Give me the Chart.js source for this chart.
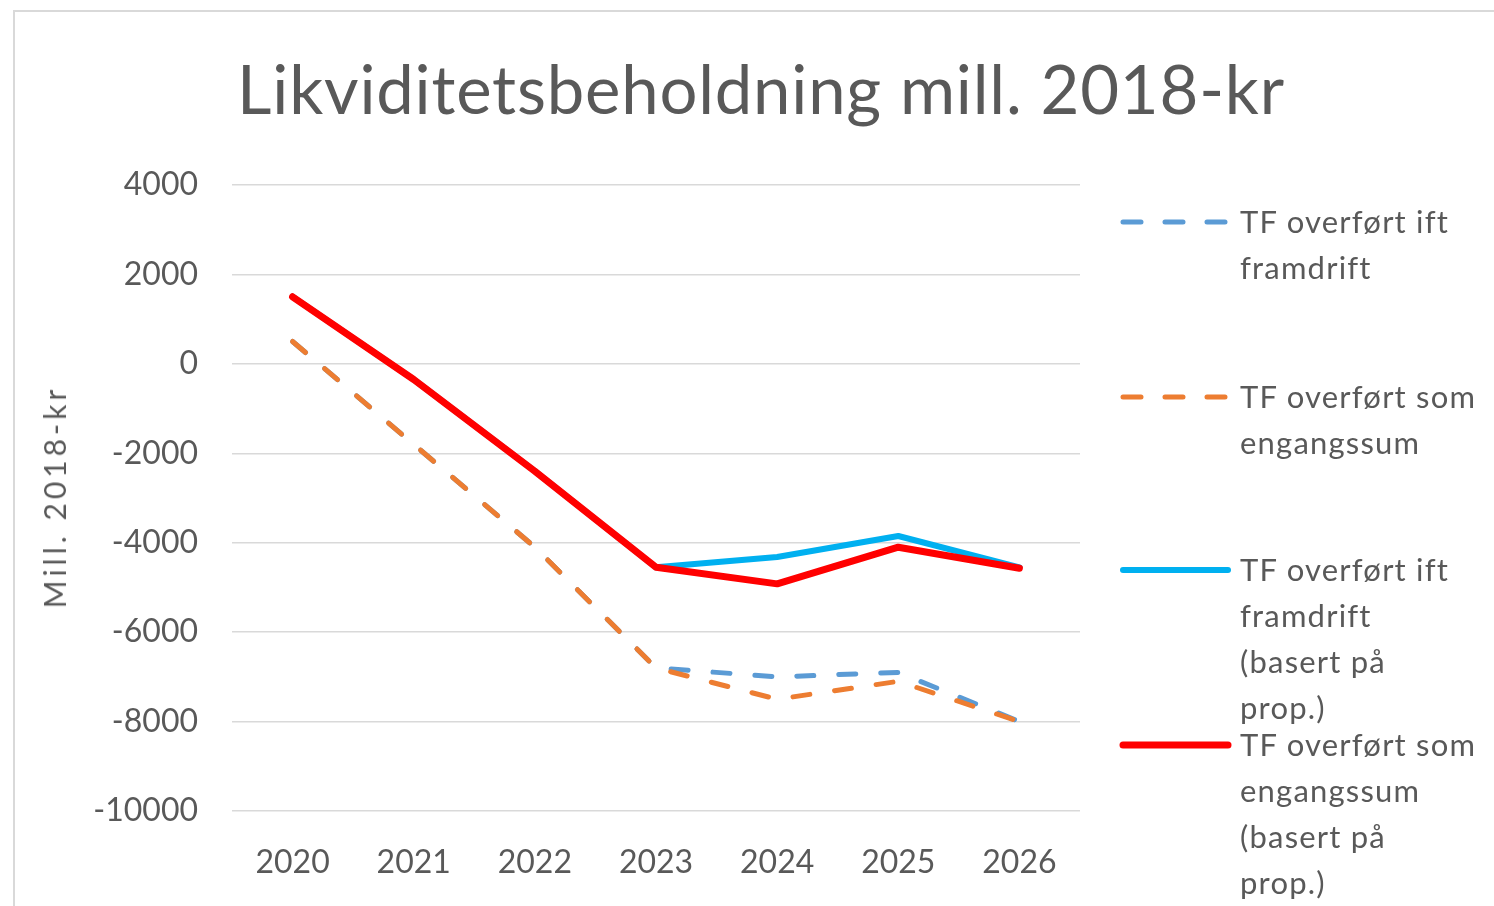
<!DOCTYPE html>
<html>
<head>
<meta charset="utf-8">
<script src="https://cdn.jsdelivr.net/npm/chart.js@4.4.1/dist/chart.umd.min.js"></script>
<style>
  html, body { margin: 0; padding: 0; background: #fff; }
  #wrap { position: relative; width: 1494px; height: 906px; overflow: hidden; background: #fff; }
  #c { position: absolute; left: 0; top: 0; }
  .frameTop { position: absolute; left: 13px; top: 10px; right: 0; height: 2px; background: #d9d9d9; }
  .frameLeft { position: absolute; left: 13px; top: 10px; width: 2px; bottom: 0; background: #d9d9d9; }
  #title { position: absolute; left: 28px; right: 0; top: 55px; text-align: center; font-family: Lato, sans-serif;
           font-size: 67px; line-height: 67px; letter-spacing: 0.8px; color: #595959; white-space: nowrap; }
  #ytitle { position: absolute; left: 54px; top: 497px; transform: translate(-50%, -50%) rotate(-90deg);
            font-family: Lato, sans-serif; font-size: 30px; line-height: 30px; letter-spacing: 4px; color: #595959; white-space: nowrap; }
  .lg { position: absolute; left: 1116px; font-family: Lato, sans-serif; font-size: 31px; line-height: 46px; letter-spacing: 1.2px; color: #595959; }
  .lg svg { position: absolute; left: 0; top: 0; }
  .lg .t { position: absolute; left: 124px; top: 0; white-space: nowrap; }
</style>
</head>
<body>
<div id="wrap">
  <div class="frameTop"></div>
  <div class="frameLeft"></div>
  <canvas id="c" width="1494" height="906"></canvas>
  <div id="title"></div>
  <div id="ytitle"></div>
</div>
<script>
const titleText = "Likviditetsbeholdning mill. 2018-kr";
const yAxisTitle = "Mill. 2018-kr";
const categories = ["2020", "2021", "2022", "2023", "2024", "2025", "2026"];
const yTicks = [4000, 2000, 0, -2000, -4000, -6000, -8000, -10000];

const seriesNames = [
  "TF overført ift framdrift",
  "TF overført som engangssum",
  "TF overført ift framdrift (basert på prop.)",
  "TF overført som engangssum (basert på prop.)"
];
const legendLines = [
  ["TF overført ift", "framdrift"],
  ["TF overført som", "engangssum"],
  ["TF overført ift", "framdrift", "(basert på", "prop.)"],
  ["TF overført som", "engangssum", "(basert på", "prop.)"]
];
const iftFramdrift = [500, -1800, -4100, -6800, -7000, -6900, -8000];
const somEngangssum = [500, -1800, -4100, -6800, -7500, -7100, -8000];
const iftFramdriftProp = [1500, -350, -2400, -4550, -4320, -3850, -4550];
const somEngangssumProp = [1500, -350, -2400, -4550, -4920, -4100, -4570];

const colors = ["#5B9BD5", "#ED7D31", "#00B0F0", "#FF0000"];
const widths = [5, 5, 6, 7];
const dashes = [[17, 25], [17, 25], [], []];
const drawOrder = [3, 2, 1, 0];
const seriesData = [iftFramdrift, somEngangssum, iftFramdriftProp, somEngangssumProp];

document.getElementById('title').textContent = titleText;
document.getElementById('ytitle').textContent = yAxisTitle;

const datasets = seriesData.map((d, i) => ({
  label: seriesNames[i],
  data: d,
  borderColor: colors[i],
  backgroundColor: colors[i],
  borderWidth: widths[i],
  borderDash: dashes[i],
  borderCapStyle: 'round',
  borderJoinStyle: 'round',
  pointRadius: 0,
  pointHoverRadius: 0,
  tension: 0,
  fill: false,
  order: drawOrder[i]
}));

new Chart(document.getElementById('c'), {
  type: 'line',
  data: { labels: categories, datasets },
  options: {
    responsive: false,
    animation: false,
    layout: { padding: { left: 0, right: 414, top: 185, bottom: 0 } },
    plugins: { legend: { display: false }, title: { display: false }, tooltip: { enabled: false } },
    scales: {
      x: {
        type: 'category',
        offset: true,
        grid: { display: false, drawTicks: false },
        border: { display: false },
        ticks: { color: '#595959', font: { family: 'Lato', size: 32 }, padding: 32, maxRotation: 0, autoSkip: false },
        afterFit: (s) => { s.height = 95; }
      },
      y: {
        min: Math.min(...yTicks),
        max: Math.max(...yTicks),
        afterBuildTicks: (s) => { s.ticks = yTicks.slice().reverse().map(v => ({ value: v })); },
        grid: { color: '#d9d9d9', lineWidth: 1.5, drawTicks: false },
        border: { display: false },
        ticks: { color: '#595959', font: { family: 'Lato', size: 32 }, padding: 34, callback: (v) => String(v) },
        title: { display: false, text: yAxisTitle },
        afterFit: (s) => { s.width = 232; }
      }
    }
  }
});

// HTML legend (multi-line labels as in the reference)
const markerY = [222, 397, 570, 745];
const wrap = document.getElementById('wrap');
legendLines.forEach((lines, i) => {
  const div = document.createElement('div');
  div.className = 'lg';
  div.style.top = (markerY[i] - 24) + 'px';
  const dash = dashes[i].length ? `stroke-dasharray="${dashes[i][0] + 1} ${dashes[i][1] - 1}"` : '';
  div.innerHTML = `<svg width="120" height="48"><line x1="7" y1="24" x2="112" y2="24" stroke="${colors[i]}" stroke-width="${widths[i]}" stroke-linecap="round" ${dash}/></svg>` +
    `<div class="t">${lines.join('<br>')}</div>`;
  wrap.appendChild(div);
});
</script>
</body>
</html>
